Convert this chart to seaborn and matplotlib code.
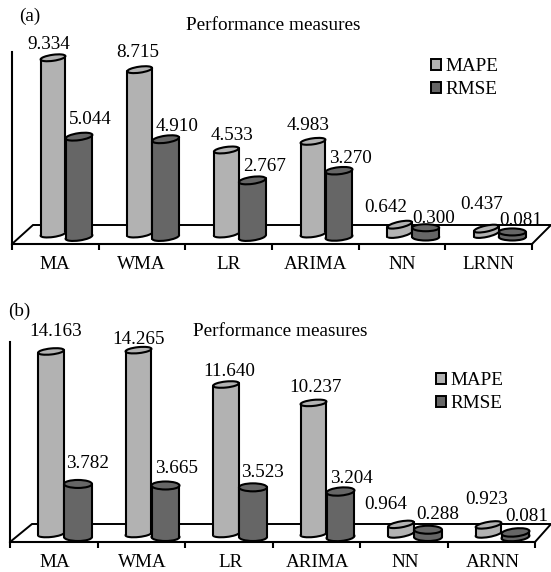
import numpy as np
import pandas as pd
import matplotlib
matplotlib.use("Agg")
import matplotlib.pyplot as plt
import seaborn as sns
from matplotlib.patches import Ellipse, Polygon, Patch
from matplotlib.path import Path
from matplotlib.transforms import IdentityTransform

# ---- data ----
methods_a = ["MA", "WMA", "LR", "ARIMA", "NN", "LRNN"]
mape_a = [9.334, 8.715, 4.533, 4.983, 0.642, 0.437]
rmse_a = [5.044, 4.910, 2.767, 3.270, 0.300, 0.081]
methods_b = ["MA", "WMA", "LR", "ARIMA", "NN", "ARNN"]
mape_b = [14.163, 14.265, 11.640, 10.237, 0.964, 0.923]
rmse_b = [3.782, 3.665, 3.523, 3.204, 0.288, 0.081]
measures = ["MAPE", "RMSE"]
title_text = "Performance measures"

# ---- style / layout ----
W, H = 551, 572
COLORS = {"MAPE": "#b2b2b2", "RMSE": "#666666"}
FS = 13.8
LW = 1.5

sns.set_theme(style="white")
plt.rcParams["font.family"] = ["Liberation Serif", "DejaVu Serif"]
plt.rcParams["axes.unicode_minus"] = False

fig = plt.figure(figsize=(W / 100, H / 100), dpi=100, facecolor="white")
ID = IdentityTransform()


def cylinder(ax, bar, color, tilt, cap_h, raise_top, raise_base, extra_w, z):
    t = ax.transData
    x0, x1 = bar.get_x(), bar.get_x() + bar.get_width()
    (px0, py0), (px1, py1) = t.transform([(x0, 0), (x1, bar.get_height())])
    cx = (px0 + px1) / 2 + extra_w / 2
    w = px1 - px0 + extra_w
    top = py1 + raise_top
    base = py0 + raise_base
    a = np.deg2rad(tilt)
    ex, ey = w / 2 * np.cos(a), w / 2 * np.sin(a)
    verts = [(cx - ex, base - ey), (cx + ex, base + ey), (cx + ex, top + ey), (cx - ex, top - ey)]
    ax.add_patch(Ellipse((cx, base), w, cap_h, angle=tilt, transform=ID, fc=color, ec="black",
                         lw=LW, zorder=z, clip_on=False))
    ax.add_patch(Polygon(verts, closed=True, transform=ID, fc=color, ec="none", zorder=z + 0.1, clip_on=False))
    for i, j in ((0, 3), (1, 2)):
        ax.plot([verts[i][0], verts[j][0]], [verts[i][1], verts[j][1]], color="black", lw=LW,
                transform=ID, zorder=z + 0.2, clip_on=False, solid_capstyle="round")
    ax.add_patch(Ellipse((cx, top), w, cap_h, angle=tilt, transform=ID, fc=color, ec="black",
                         lw=LW, zorder=z + 0.3, clip_on=False))
    bar.set_clip_path(Path(verts + [verts[0]]), ID)
    bar.set_zorder(z + 0.05)


def panel(methods, mape, rmse, box, x_zero, spacing, y0, scale, width, floor, tilts, cap_hs,
          offs, title_xy, tag, tag_xy, leg_xy, lab_shift):
    left, right, top, bottom = box
    ax = fig.add_axes([left / W, 1 - bottom / H, (right - left) / W, (bottom - top) / H])
    df = pd.DataFrame({
        "method": methods * 2,
        "measure": ["MAPE"] * 6 + ["RMSE"] * 6,
        "value": list(mape) + list(rmse),
    })
    sns.barplot(data=df, x="method", y="value", hue="measure", hue_order=measures, order=methods,
                palette=COLORS, width=width, gap=0, saturation=1, legend=False, ax=ax, linewidth=0)
    xl = ((left - x_zero) / spacing, (right - x_zero) / spacing)
    ax.set_xlim(*xl)
    ax.set_ylim((y0 - bottom) / scale, (y0 - top) / scale)
    ax.set_xlabel("")
    ax.set_ylabel("")
    ax.set_yticks([])
    ax.patch.set_alpha(0)
    for s in ("top", "right"):
        ax.spines[s].set_visible(False)
    for s in ("left", "bottom"):
        ax.spines[s].set_linewidth(1.5)
        ax.spines[s].set_color("black")
        ax.spines[s].set_zorder(1.5)
    ax.set_xticks([xl[0] + k for k in range(7)], minor=True)
    ax.set_xticks([k + lab_shift for k in range(6)], labels=methods)
    ax.tick_params(axis="x", which="major", length=0, pad=8.5, labelsize=FS, labelcolor="black")
    ax.tick_params(axis="x", which="minor", length=4.5, width=1.5, color="black", bottom=True)

    # floor of the 3D box
    ax.add_patch(Polygon([(px, H - py) for px, py in floor], closed=False, transform=ID, fc="none",
                         ec="black", lw=1.4, zorder=1, clip_on=False))

    for cont, key, base_up, top_up, extra in zip(ax.containers, measures, (3, 0), (0, 3.5), (0, 2)):
        z = 2 if key == "MAPE" else 3
        for k, bar in enumerate(cont):
            cylinder(ax, bar, COLORS[key], tilts[key][k], cap_hs[key], top_up, base_up, extra, z + k * 0.01)
            val = bar.get_height()
            dx, dy = offs[key][k]
            ax.annotate(f"{val:.3f}", xy=(bar.get_x() + bar.get_width() / 2, val), xytext=(dx, dy),
                        textcoords="offset pixels", ha="center", va="center", fontsize=FS,
                        color="black", annotation_clip=False, zorder=6)

    fig.text(title_xy[0] / W, 1 - title_xy[1] / H, title_text, ha="center", va="center",
             fontsize=13.9, color="black")
    fig.text(tag_xy[0] / W, 1 - tag_xy[1] / H, tag, ha="center", va="center", fontsize=FS, color="black")
    handles = [Patch(fc=COLORS[m], ec="black", lw=1.4, label=m) for m in measures]
    ax.legend(handles=handles, loc="upper left", bbox_to_anchor=(leg_xy[0] / W, 1 - leg_xy[1] / H),
              bbox_transform=fig.transFigure, frameon=False, fontsize=FS, handlelength=0.5,
              handleheight=0.5, handletextpad=0.25, labelspacing=0.32, borderpad=0, borderaxespad=0,
              labelcolor="black")
    return ax


panel(methods_a, mape_a, rmse_a,
      box=(12, 532, 52, 244), x_zero=65.5, spacing=86.67, y0=237, scale=19.2, width=0.577,
      floor=[(12, 244), (33, 225), (551, 225), (532, 244)],
      tilts={"MAPE": [8, 8, 8, 8, 12, 12], "RMSE": [8, 8, 8, 6, 0, 0]},
      cap_hs={"MAPE": 6, "RMSE": 7},
      offs={"MAPE": [(-4, 13), (-1.5, 17), (5.5, 14), (-5, 16), (-13.5, 17), (-4.5, 24)],
            "RMSE": [(12, 21), (12.5, 16), (13.5, 17), (12, 16), (8.5, 13), (9.5, 15)]},
      title_xy=(273, 26), tag="(a)", tag_xy=(30, 16), leg_xy=(431, 58), lab_shift=-0.12)

panel(methods_b, mape_b, rmse_b,
      box=(10, 535, 342, 542), x_zero=64, spacing=87.5, y0=537, scale=13.1, width=0.594,
      floor=[(10, 542), (32, 524), (551, 524), (535, 542)],
      tilts={"MAPE": [6, 6, 6, 6, 10, 10], "RMSE": [0, 0, 0, 5, 0, 6]},
      cap_hs={"MAPE": 6, "RMSE": 8},
      offs={"MAPE": [(5, 19.5), (0.5, 11), (3, 13.5), (1.5, 15), (-15, 20), (-1.5, 25)],
            "RMSE": [(11, 23.5), (12.5, 20), (10, 18), (11.5, 17), (11, 19), (12.5, 19)]},
      title_xy=(280, 332), tag="(b)", tag_xy=(19, 311), leg_xy=(436, 372), lab_shift=-0.1)

fig.savefig("out.png", dpi=100, facecolor="white")
